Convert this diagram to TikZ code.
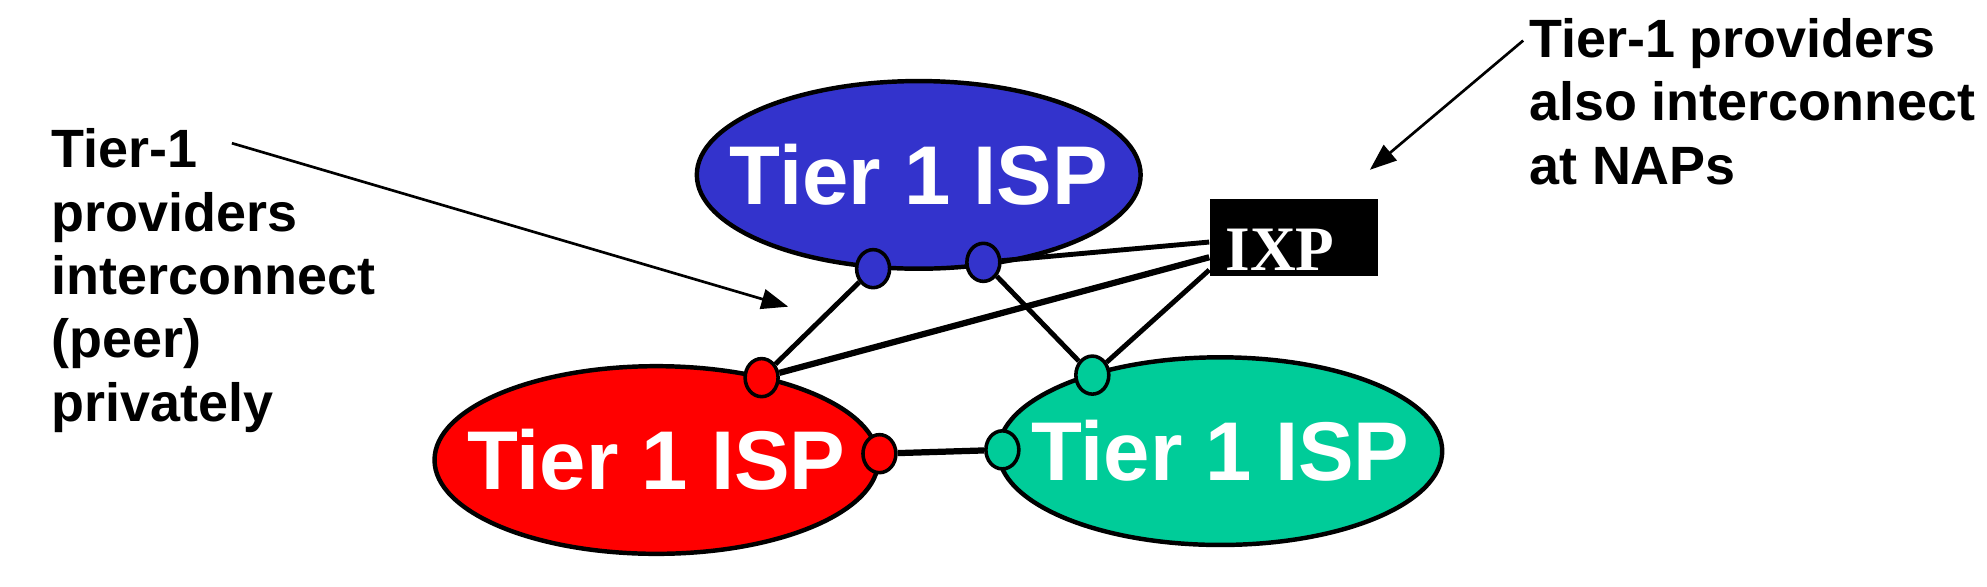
\documentclass[tikz,border=0pt]{standalone}
\usepackage{fontspec}
\setmainfont{Liberation Sans}
\newfontfamily\ixpfont{Liberation Serif}
\usetikzlibrary{shapes.geometric,arrows.meta}
\definecolor{ispblue}{RGB}{51,51,204}
\definecolor{ispred}{RGB}{255,0,0}
\definecolor{ispgreen}{RGB}{0,204,153}
\begin{document}
\begin{tikzpicture}[x=0.01cm,y=-0.01cm,
  isp/.style={ellipse,draw=black,line width=1pt,minimum width=3.5cm,minimum height=1.48cm,inner sep=0pt},
  isptext/.style={text=white,inner sep=0pt,font=\bfseries\fontsize{18.7}{20}\selectfont},
  port/.style={ellipse,draw=black,line width=0.8pt,minimum width=0.26cm,minimum height=0.3cm,inner sep=0pt},
  link/.style={line width=1.1pt},
  biglink/.style={line width=1.4pt},
  note/.style={font=\bfseries\fontsize{12.1}{14.2}\selectfont,align=left,inner sep=0pt,anchor=north west},
  callout/.style={line width=0.6pt,-{Triangle[length=6pt,width=4.5pt]}}
]
\useasboundingbox (0,0) rectangle (1568,463);
% ISP clouds
\node[isp,fill=ispblue,label={[isptext]center:Tier 1 ISP}] (blue) at (725,138) {};
\node[isp,fill=ispred,label={[isptext]center:Tier 1 ISP}] (red) at (518,363) {};
\node[isp,fill=ispgreen,label={[isptext]center:Tier 1 ISP}] (green) at (963,356) {};
% ports
\node[port,fill=ispblue] (bp1) at (689,212) {};
\node[port,fill=ispblue] (bp2) at (776,207) {};
\node[port,fill=ispred] (rp1) at (601,298) {};
\node[port,fill=ispred] (rp2) at (694,358) {};
\node[port,fill=ispgreen] (gp1) at (791,355) {};
\node[port,fill=ispgreen] (gp2) at (862,296) {};
% IXP
\node[fill=black,minimum width=1.32cm,minimum height=0.61cm,inner sep=0pt] (ixp) at (1021,187.5) {};
\node[text=white,inner sep=0pt,font=\ixpfont\bfseries\fontsize{14.2}{16}\selectfont] (ixptext) at (1010,197) {IXP};
% links
\draw[link] (bp1) -- (rp1);
\draw[link] (bp2) -- (gp2);
\draw[link] (bp2) -- ([yshift=-0.035cm]ixp.west);
\draw[biglink] (rp1) -- ([yshift=-0.155cm]ixp.west);
\draw[link] (gp2) -- ([yshift=-0.255cm]ixp.west);
\draw[biglink] (rp2) -- (gp1);
% notes
\node[note] (lnote) at (40,101) {Tier-1\\providers\\interconnect\\(peer)\\privately};
\node[note] (rnote) at (1206,14) {Tier-1 providers\\also interconnect\\at NAPs};
\coordinate (la) at (183,113);
\coordinate (lb) at (622,242);
\coordinate (ra) at (1202,32);
\coordinate (rb) at (1081,134);
\draw[callout] (la) -- (lb);
\draw[callout] (ra) -- (rb);
\end{tikzpicture}
\end{document}
